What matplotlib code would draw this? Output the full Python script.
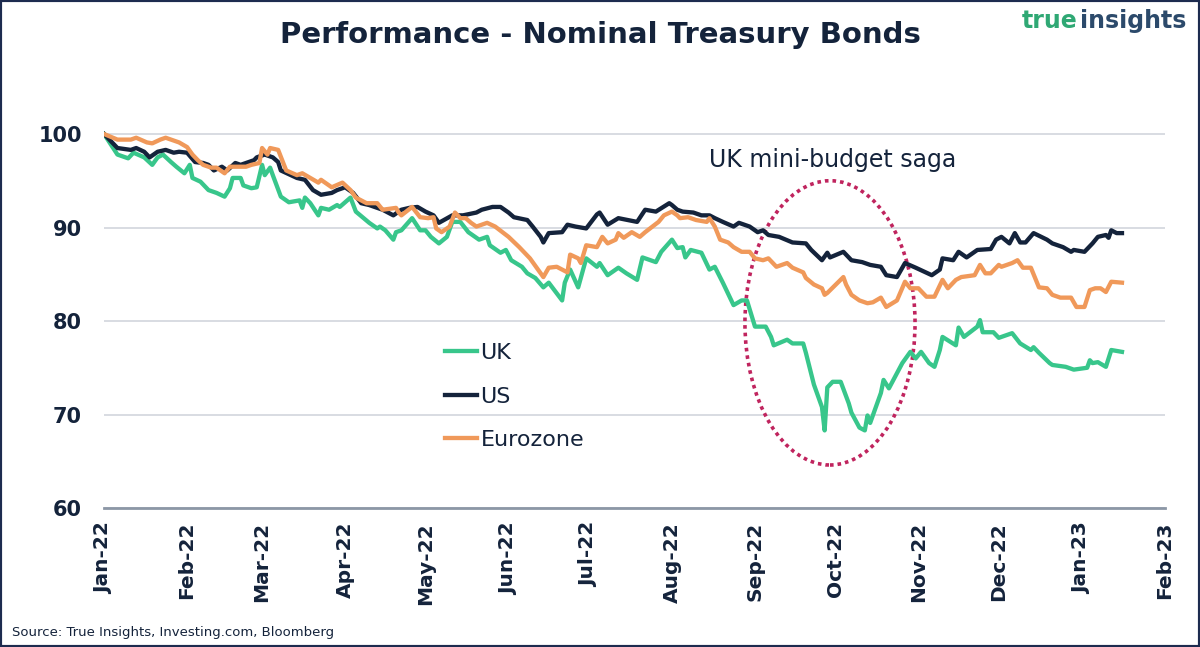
import pandas as pd
import matplotlib
matplotlib.use('Agg')
import matplotlib.pyplot as plt
import matplotlib.dates as mdates
from matplotlib.patches import Ellipse, Rectangle

uk_dates = ['2022-01-01', '2022-01-06', '2022-01-10', '2022-01-12', '2022-01-16', '2022-01-19', '2022-01-21', '2022-01-23', '2022-01-26', '2022-01-28',
            '2022-01-31', '2022-02-02', '2022-02-03', '2022-02-06', '2022-02-09', '2022-02-12', '2022-02-15', '2022-02-17', '2022-02-18', '2022-02-21',
            '2022-02-22', '2022-02-25', '2022-02-27', '2022-03-01', '2022-03-02', '2022-03-04', '2022-03-05', '2022-03-08', '2022-03-11', '2022-03-15',
            '2022-03-16', '2022-03-17', '2022-03-19', '2022-03-22', '2022-03-23', '2022-03-26', '2022-03-29', '2022-03-30', '2022-04-03', '2022-04-05',
            '2022-04-10', '2022-04-13', '2022-04-14', '2022-04-16', '2022-04-19', '2022-04-20', '2022-04-22', '2022-04-26', '2022-04-29', '2022-05-01',
            '2022-05-03', '2022-05-06', '2022-05-09', '2022-05-11', '2022-05-14', '2022-05-17', '2022-05-21', '2022-05-24', '2022-05-25', '2022-05-29',
            '2022-05-31', '2022-06-02', '2022-06-06', '2022-06-08', '2022-06-11', '2022-06-14', '2022-06-16', '2022-06-21', '2022-06-22', '2022-06-24',
            '2022-06-27', '2022-06-30', '2022-07-04', '2022-07-05', '2022-07-08', '2022-07-12', '2022-07-15', '2022-07-19', '2022-07-21', '2022-07-26',
            '2022-07-28', '2022-08-01', '2022-08-03', '2022-08-05', '2022-08-06', '2022-08-08', '2022-08-12', '2022-08-15', '2022-08-17', '2022-08-20',
            '2022-08-24', '2022-08-27', '2022-08-29', '2022-09-01', '2022-09-05', '2022-09-07', '2022-09-08', '2022-09-13', '2022-09-15', '2022-09-19',
            '2022-09-20', '2022-09-23', '2022-09-26', '2022-09-27', '2022-09-28', '2022-09-30', '2022-10-03', '2022-10-06', '2022-10-07', '2022-10-10',
            '2022-10-12', '2022-10-13', '2022-10-14', '2022-10-18', '2022-10-19', '2022-10-21', '2022-10-26', '2022-10-29', '2022-10-31', '2022-11-02',
            '2022-11-05', '2022-11-07', '2022-11-09', '2022-11-10', '2022-11-15', '2022-11-16', '2022-11-18', '2022-11-23', '2022-11-24', '2022-11-25',
            '2022-11-29', '2022-12-01', '2022-12-02', '2022-12-06', '2022-12-09', '2022-12-13', '2022-12-14', '2022-12-16', '2022-12-20', '2022-12-21',
            '2022-12-26', '2022-12-29', '2023-01-03', '2023-01-04', '2023-01-05', '2023-01-07', '2023-01-10', '2023-01-12', '2023-01-16']
uk = [100.0, 97.8, 97.4, 98.0, 97.5, 96.7, 97.5, 97.8, 97.0, 96.5,
      95.8, 96.7, 95.3, 94.9, 94.0, 93.7, 93.3, 94.2, 95.3, 95.3,
      94.5, 94.2, 94.3, 96.7, 95.6, 96.4, 95.6, 93.3, 92.7, 92.9,
      92.1, 93.2, 92.6, 91.3, 92.1, 91.9, 92.4, 92.2, 93.2, 91.7,
      90.5, 89.9, 90.1, 89.7, 88.7, 89.5, 89.7, 91.0, 89.7, 89.7,
      89.0, 88.3, 89.0, 90.6, 90.6, 89.5, 88.7, 89.0, 88.1, 87.3,
      87.6, 86.5, 85.8, 85.1, 84.6, 83.6, 84.1, 82.2, 84.1, 85.5,
      83.6, 86.7, 85.8, 86.2, 84.9, 85.7, 85.1, 84.4, 86.8, 86.3,
      87.4, 88.7, 87.8, 87.9, 86.8, 87.6, 87.3, 85.5, 85.8, 84.1,
      81.7, 82.2, 82.2, 79.4, 79.4, 78.3, 77.4, 78.0, 77.6, 77.6,
      76.6, 73.2, 70.8, 68.3, 72.9, 73.5, 73.5, 71.2, 70.2, 68.6,
      68.3, 69.9, 69.1, 72.3, 73.7, 72.8, 75.5, 76.7, 76.0, 76.7,
      75.5, 75.1, 76.9, 78.3, 77.4, 79.3, 78.3, 79.4, 80.1, 78.8,
      78.8, 78.2, 78.3, 78.7, 77.6, 76.9, 77.2, 76.6, 75.5, 75.3,
      75.1, 74.8, 75.0, 75.8, 75.5, 75.6, 75.1, 76.9, 76.7]

us_dates = ['2022-01-01', '2022-01-06', '2022-01-11', '2022-01-13', '2022-01-16', '2022-01-18', '2022-01-21', '2022-01-24', '2022-01-27', '2022-01-29',
            '2022-02-01', '2022-02-04', '2022-02-07', '2022-02-09', '2022-02-11', '2022-02-14', '2022-02-16', '2022-02-19', '2022-02-21', '2022-02-23',
            '2022-02-26', '2022-02-27', '2022-03-02', '2022-03-05', '2022-03-07', '2022-03-08', '2022-03-14', '2022-03-17', '2022-03-20', '2022-03-23',
            '2022-03-27', '2022-03-29', '2022-04-01', '2022-04-04', '2022-04-07', '2022-04-10', '2022-04-15', '2022-04-19', '2022-04-22', '2022-04-25',
            '2022-04-28', '2022-05-01', '2022-05-04', '2022-05-06', '2022-05-11', '2022-05-15', '2022-05-20', '2022-05-22', '2022-05-26', '2022-05-29',
            '2022-06-01', '2022-06-03', '2022-06-08', '2022-06-10', '2022-06-13', '2022-06-14', '2022-06-16', '2022-06-21', '2022-06-23', '2022-06-26',
            '2022-06-30', '2022-07-04', '2022-07-05', '2022-07-08', '2022-07-12', '2022-07-19', '2022-07-22', '2022-07-26', '2022-07-31', '2022-08-01',
            '2022-08-03', '2022-08-05', '2022-08-09', '2022-08-12', '2022-08-15', '2022-08-17', '2022-08-20', '2022-08-24', '2022-08-26', '2022-08-30',
            '2022-09-02', '2022-09-04', '2022-09-06', '2022-09-10', '2022-09-15', '2022-09-20', '2022-09-22', '2022-09-26', '2022-09-28', '2022-09-29',
            '2022-10-04', '2022-10-07', '2022-10-11', '2022-10-14', '2022-10-18', '2022-10-20', '2022-10-24', '2022-10-27', '2022-10-31', '2022-11-06',
            '2022-11-09', '2022-11-10', '2022-11-14', '2022-11-16', '2022-11-19', '2022-11-23', '2022-11-28', '2022-11-30', '2022-12-02', '2022-12-05',
            '2022-12-07', '2022-12-09', '2022-12-11', '2022-12-14', '2022-12-19', '2022-12-21', '2022-12-25', '2022-12-28', '2022-12-29', '2023-01-02',
            '2023-01-05', '2023-01-07', '2023-01-10', '2023-01-11', '2023-01-12', '2023-01-14', '2023-01-16']
us = [100.0, 98.5, 98.3, 98.5, 98.1, 97.5, 98.1, 98.3, 98.0, 98.1,
      98.0, 97.0, 96.9, 96.7, 96.1, 96.5, 96.1, 96.9, 96.7, 96.9,
      97.2, 97.5, 97.8, 97.5, 97.0, 96.1, 95.3, 95.1, 94.0, 93.5,
      93.7, 94.0, 94.3, 93.7, 92.6, 92.4, 91.9, 91.3, 91.9, 92.1,
      92.2, 91.7, 91.3, 90.5, 91.3, 91.3, 91.6, 91.9, 92.2, 92.2,
      91.6, 91.1, 90.8, 90.1, 89.0, 88.4, 89.4, 89.5, 90.3, 90.1,
      89.9, 91.4, 91.6, 90.3, 91.0, 90.6, 91.9, 91.7, 92.6, 92.4,
      91.9, 91.7, 91.6, 91.3, 91.3, 91.0, 90.6, 90.1, 90.5, 90.1,
      89.5, 89.7, 89.2, 89.0, 88.4, 88.3, 87.6, 86.5, 87.3, 86.8,
      87.4, 86.5, 86.3, 86.0, 85.8, 84.9, 84.7, 86.2, 85.7, 84.9,
      85.5, 86.7, 86.5, 87.4, 86.8, 87.6, 87.7, 88.7, 89.0, 88.3,
      89.4, 88.4, 88.4, 89.4, 88.7, 88.3, 87.9, 87.4, 87.6, 87.4,
      88.3, 89.0, 89.2, 88.9, 89.7, 89.4, 89.4]

ez_dates = ['2022-01-01', '2022-01-06', '2022-01-11', '2022-01-13', '2022-01-17', '2022-01-19', '2022-01-22', '2022-01-24', '2022-01-26', '2022-01-29',
            '2022-02-01', '2022-02-03', '2022-02-05', '2022-02-07', '2022-02-10', '2022-02-12', '2022-02-15', '2022-02-17', '2022-02-20', '2022-02-23',
            '2022-02-25', '2022-02-28', '2022-03-01', '2022-03-03', '2022-03-04', '2022-03-07', '2022-03-10', '2022-03-14', '2022-03-16', '2022-03-19',
            '2022-03-22', '2022-03-23', '2022-03-27', '2022-03-31', '2022-04-03', '2022-04-05', '2022-04-09', '2022-04-13', '2022-04-15', '2022-04-20',
            '2022-04-21', '2022-04-22', '2022-04-26', '2022-04-29', '2022-05-02', '2022-05-04', '2022-05-05', '2022-05-07', '2022-05-10', '2022-05-12',
            '2022-05-14', '2022-05-16', '2022-05-18', '2022-05-20', '2022-05-24', '2022-05-27', '2022-06-01', '2022-06-05', '2022-06-09', '2022-06-12',
            '2022-06-14', '2022-06-16', '2022-06-19', '2022-06-23', '2022-06-24', '2022-06-27', '2022-06-28', '2022-06-30', '2022-07-04', '2022-07-06',
            '2022-07-08', '2022-07-11', '2022-07-12', '2022-07-14', '2022-07-17', '2022-07-20', '2022-07-22', '2022-07-27', '2022-07-29', '2022-08-01',
            '2022-08-03', '2022-08-04', '2022-08-07', '2022-08-10', '2022-08-14', '2022-08-15', '2022-08-17', '2022-08-19', '2022-08-22', '2022-08-24',
            '2022-08-27', '2022-08-30', '2022-09-01', '2022-09-04', '2022-09-06', '2022-09-09', '2022-09-13', '2022-09-15', '2022-09-19', '2022-09-20',
            '2022-09-23', '2022-09-26', '2022-09-27', '2022-09-28', '2022-10-04', '2022-10-05', '2022-10-07', '2022-10-10', '2022-10-13', '2022-10-15',
            '2022-10-18', '2022-10-20', '2022-10-24', '2022-10-27', '2022-10-29', '2022-11-01', '2022-11-04', '2022-11-07', '2022-11-10', '2022-11-12',
            '2022-11-15', '2022-11-17', '2022-11-22', '2022-11-24', '2022-11-26', '2022-11-28', '2022-12-01', '2022-12-02', '2022-12-06', '2022-12-08',
            '2022-12-10', '2022-12-13', '2022-12-16', '2022-12-19', '2022-12-21', '2022-12-24', '2022-12-28', '2022-12-30', '2023-01-02', '2023-01-04',
            '2023-01-06', '2023-01-08', '2023-01-10', '2023-01-12', '2023-01-16']
ez = [100.0, 99.4, 99.4, 99.6, 99.1, 99.0, 99.4, 99.6, 99.4, 99.1,
      98.6, 97.8, 97.2, 96.7, 96.4, 96.4, 95.8, 96.5, 96.5, 96.5,
      96.7, 96.9, 98.5, 97.8, 98.5, 98.3, 96.1, 95.6, 95.8, 95.3,
      94.8, 95.1, 94.3, 94.8, 94.0, 93.2, 92.6, 92.6, 91.9, 92.1,
      91.6, 91.3, 92.2, 91.1, 91.0, 91.1, 89.9, 89.5, 90.1, 91.6,
      91.0, 91.0, 90.5, 90.1, 90.5, 90.1, 89.0, 87.9, 86.7, 85.5,
      84.7, 85.7, 85.8, 85.2, 87.1, 86.7, 86.2, 88.1, 87.9, 89.0,
      88.3, 88.7, 89.4, 88.9, 89.5, 89.0, 89.5, 90.6, 91.3, 91.7,
      91.3, 91.0, 91.1, 90.8, 90.6, 91.0, 90.1, 88.7, 88.4, 87.9,
      87.4, 87.4, 86.7, 86.5, 86.7, 85.8, 86.2, 85.7, 85.2, 84.6,
      83.9, 83.5, 82.8, 83.0, 84.7, 83.9, 82.8, 82.2, 81.9, 82.0,
      82.5, 81.5, 82.2, 84.2, 83.5, 83.5, 82.6, 82.6, 84.4, 83.5,
      84.4, 84.7, 84.9, 86.0, 85.1, 85.1, 86.0, 85.8, 86.2, 86.5,
      85.7, 85.7, 83.6, 83.5, 82.8, 82.5, 82.5, 81.5, 81.5, 83.3,
      83.5, 83.5, 83.1, 84.2, 84.1]

y_ticks = [60, 70, 80, 90, 100]
navy = '#14233b'

fig = plt.figure(figsize=(12, 6.47), dpi=100)
ax = fig.add_axes([0.0867, 0.2148, 0.884, 0.607])

ax.plot(pd.to_datetime(uk_dates), uk, color='#38c68b', lw=3.1, label='UK', solid_joinstyle='round', zorder=3)
ax.plot(pd.to_datetime(us_dates), us, color=navy, lw=3.1, label='US', solid_joinstyle='round', zorder=3)
ax.plot(pd.to_datetime(ez_dates), ez, color='#f0995a', lw=3.1, label='Eurozone', solid_joinstyle='round', zorder=3)

ax.set_xlim(pd.Timestamp('2022-01-01'), pd.Timestamp('2023-02-01'))
ax.set_ylim(60, 102)
ax.set_yticks(y_ticks)
ax.yaxis.grid(True, color='#d5d9df', lw=1.3)
ax.set_axisbelow(True)
for s in ['top', 'right', 'left']:
    ax.spines[s].set_visible(False)
ax.spines['bottom'].set_color('#8c97a6')
ax.spines['bottom'].set_linewidth(2)

ax.xaxis.set_major_locator(mdates.MonthLocator())
ax.xaxis.set_major_formatter(mdates.DateFormatter('%b-%y'))
ax.tick_params(axis='x', length=0, pad=10, labelsize=14.5, labelcolor=navy, rotation=90)
ax.tick_params(axis='y', length=0, pad=16, labelsize=15, labelcolor=navy)
for lab in ax.get_xticklabels() + ax.get_yticklabels():
    lab.set_fontweight('bold')

# dotted ellipse around the mini-budget period
cx = mdates.date2num(pd.Timestamp('2022-09-29'))
ax.add_patch(Ellipse((cx, 79.8), 63.5, 30.4, fill=False, ec='#c0245e', lw=2.6,
                     ls=(0, (1, 1.1)), clip_on=False, zorder=2))
ax.text(pd.Timestamp('2022-08-15'), 97.2, 'UK mini-budget saga', fontsize=17,
        color=navy, va='center', ha='left')

leg = ax.legend(loc='upper left', bbox_to_anchor=(0.311, 0.448), frameon=False,
                fontsize=16, handlelength=1.45, handletextpad=0.15,
                labelspacing=1.05, borderpad=0)
for t in leg.get_texts():
    t.set_color(navy)

fig.text(0.5, 0.946, 'Performance - Nominal Treasury Bonds', ha='center', va='center',
         fontsize=21, fontweight='bold', color=navy)
fig.text(1077 / 1200, 0.968, 'true', ha='right', va='center', fontsize=17,
         fontweight='bold', color='#2fa874')
fig.text(1186 / 1200, 0.968, 'insights', ha='right', va='center', fontsize=17,
         fontweight='bold', color='#2c4a6b')
fig.text(0.01, 0.012, 'Source: True Insights, Investing.com, Bloomberg', ha='left',
         va='bottom', fontsize=9.5, color=navy)

fig.patches.append(Rectangle((0, 0), 1, 1, transform=fig.transFigure, fill=False,
                             ec='#1d2b4f', lw=3))

fig.savefig('out.png', dpi=100)
